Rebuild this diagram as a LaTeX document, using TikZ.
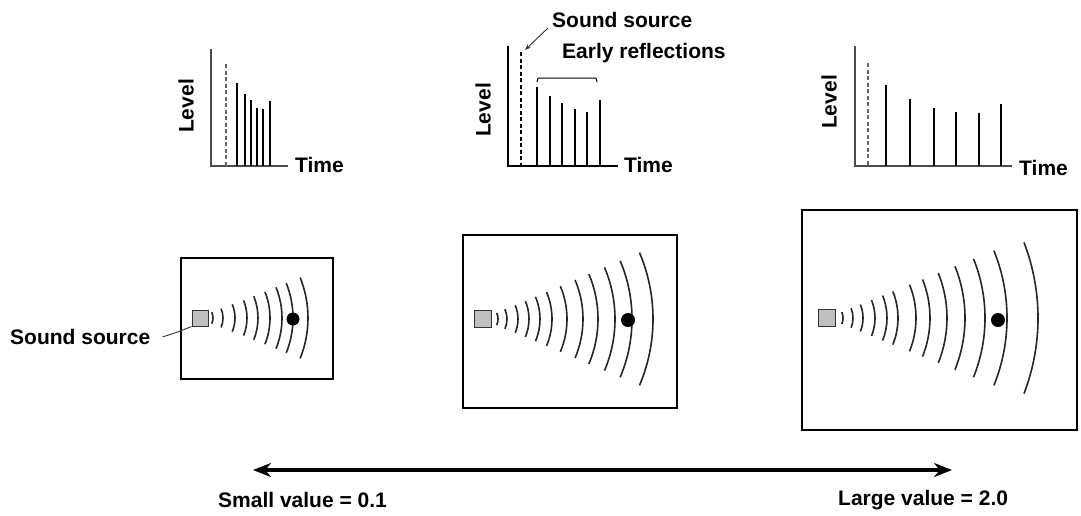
\documentclass[tikz,border=0pt]{standalone}
\usepackage{fontspec}
\setmainfont{Liberation Sans}
\usetikzlibrary{patterns,arrows.meta}
\begin{document}
\begin{tikzpicture}[x=1pt,y=-1pt,
  lbl/.style={font=\fontsize{21}{24}\selectfont\bfseries,inner sep=0pt},
  axis/.style={draw=black!70,line width=1.3pt},
  bar/.style={line width=1.8pt},
  tbar/.style={line width=1.2pt},
  src/.style={draw=black!20,line width=1.2pt,dashed,dash pattern=on 4pt off 2.5pt},
  room/.style={line width=2.2pt},
  wave/.style={line width=1.6pt,black!85},
  spk/.style={draw=black!80,line width=0.9pt,pattern=north east lines,pattern color=black!60,fill=black!25}]
\useasboundingbox (0,0) rectangle (1081,515);
% ---------- chart 1
\draw[axis] (211,49) -- (211,166) -- (288,166);
\draw[src,draw=black!60] (226,64) -- (226,166);
\foreach \x/\t/\w in {237/83/1.8,245/94/1.2,251/100/1.8,257/108/1.8,263/109/1.8,270/101/1.2}
  \draw[line width=\w pt] (\x,\t) -- (\x,166);
\node[lbl,anchor=west] (t1) at (295,165) {Time};
\node[lbl,rotate=90] (l1) at (186,106) {Level};
% ---------- chart 2
\draw[axis,draw=black] (508,46) -- (508,166) -- (618,166);
\draw[line width=1.8pt,dashed,dash pattern=on 4pt off 2.5pt] (521,52) -- (521,166);
\foreach \x/\t in {537/87,550/96,562/103,575/109,587/112,600/100}
  \draw[bar] (\x,\t) -- (\x,166);
\node[lbl,anchor=west] (t2) at (624,165) {Time};
\node[lbl,rotate=90] (l2) at (483,110) {Level};
\node[lbl,anchor=west] (ss) at (552,20) {Sound source};
\node[lbl,anchor=west] (er) at (562,53) {Early reflections};
\coordinate (srctop) at (525,50);
\draw[-{Stealth[length=6pt]},line width=0.9pt,black!80] (548,28) -- (srctop);
\draw[line width=1pt] (537,82) -- (538,78) -- (596,78) -- (597,82);
% ---------- chart 3
\draw[axis] (855,46) -- (855,166) -- (1012,166);
\draw[src,draw=black!60] (868,63) -- (868,166);
\foreach \x/\t/\w in {886/85/1.2,910/99/1.8,934/108/1.8,956/112/1.8,979/113/1.2,1001/104/1.2}
  \draw[line width=\w pt] (\x,\t) -- (\x,166);
\node[lbl,anchor=west] (t3) at (1019,168) {Time};
\node[lbl,rotate=90] (l3) at (829,102) {Level};
% ---------- room 1
\draw[room] (181,258) rectangle (333,379);
\node[spk,minimum size=16pt,inner sep=0pt] (sp1) at (200,318) {};
\foreach \r/\a in {13/26,23/24,35/23,47/22,58/22,70/22,82/22,93/22,108/22}
  \draw[wave] (200,318) ++(-\a:\r pt) arc[start angle=-\a,end angle=\a,radius=\r pt];
\fill (293,319) circle (6.5pt);
\node[lbl,anchor=west] (ssl) at (10,337) {Sound source};
\draw[line width=0.9pt,black!80] (ssl.east)++(12,0) .. controls (178,332) .. (sp1.south west);
% ---------- room 2
\draw[room] (463,235) rectangle (677,408);
\node[spk,minimum size=17pt,inner sep=0pt] (sp2) at (483,319) {};
\foreach \r/\a in {15/24,24/24,35/23,46/23,57/23,69/23,84/23,100/23,115/23,132/23,149/23,170/23}
  \draw[wave] (483,319) ++(-\a:\r pt) arc[start angle=-\a,end angle=\a,radius=\r pt];
\fill (628,320) circle (7pt);
% ---------- room 3
\draw[room] (802,210) rectangle (1077,430);
\node[spk,minimum size=17pt,inner sep=0pt] (sp3) at (827,318) {};
\foreach \r/\a in {16/22,26/22,36/22,48/22,60/22,71/22,89/22,103/22,120/22,138/22,158/22,180/22,211/21}
  \draw[wave] (827,318) ++(-\a:\r pt) arc[start angle=-\a,end angle=\a,radius=\r pt];
\fill (998,320) circle (7pt);
% ---------- scale arrow
\coordinate (al) at (253,470);
\coordinate (ar) at (952,470);
\draw[{Stealth[length=18pt,width=14pt]}-{Stealth[length=18pt,width=14pt]},line width=3.5pt] (al) -- (ar);
\node[lbl,anchor=west] (sv) at (218,500) {Small value = 0.1};
\node[lbl,anchor=west] (lv) at (838,500) {Large value = 2.0};
\end{tikzpicture}
\end{document}
